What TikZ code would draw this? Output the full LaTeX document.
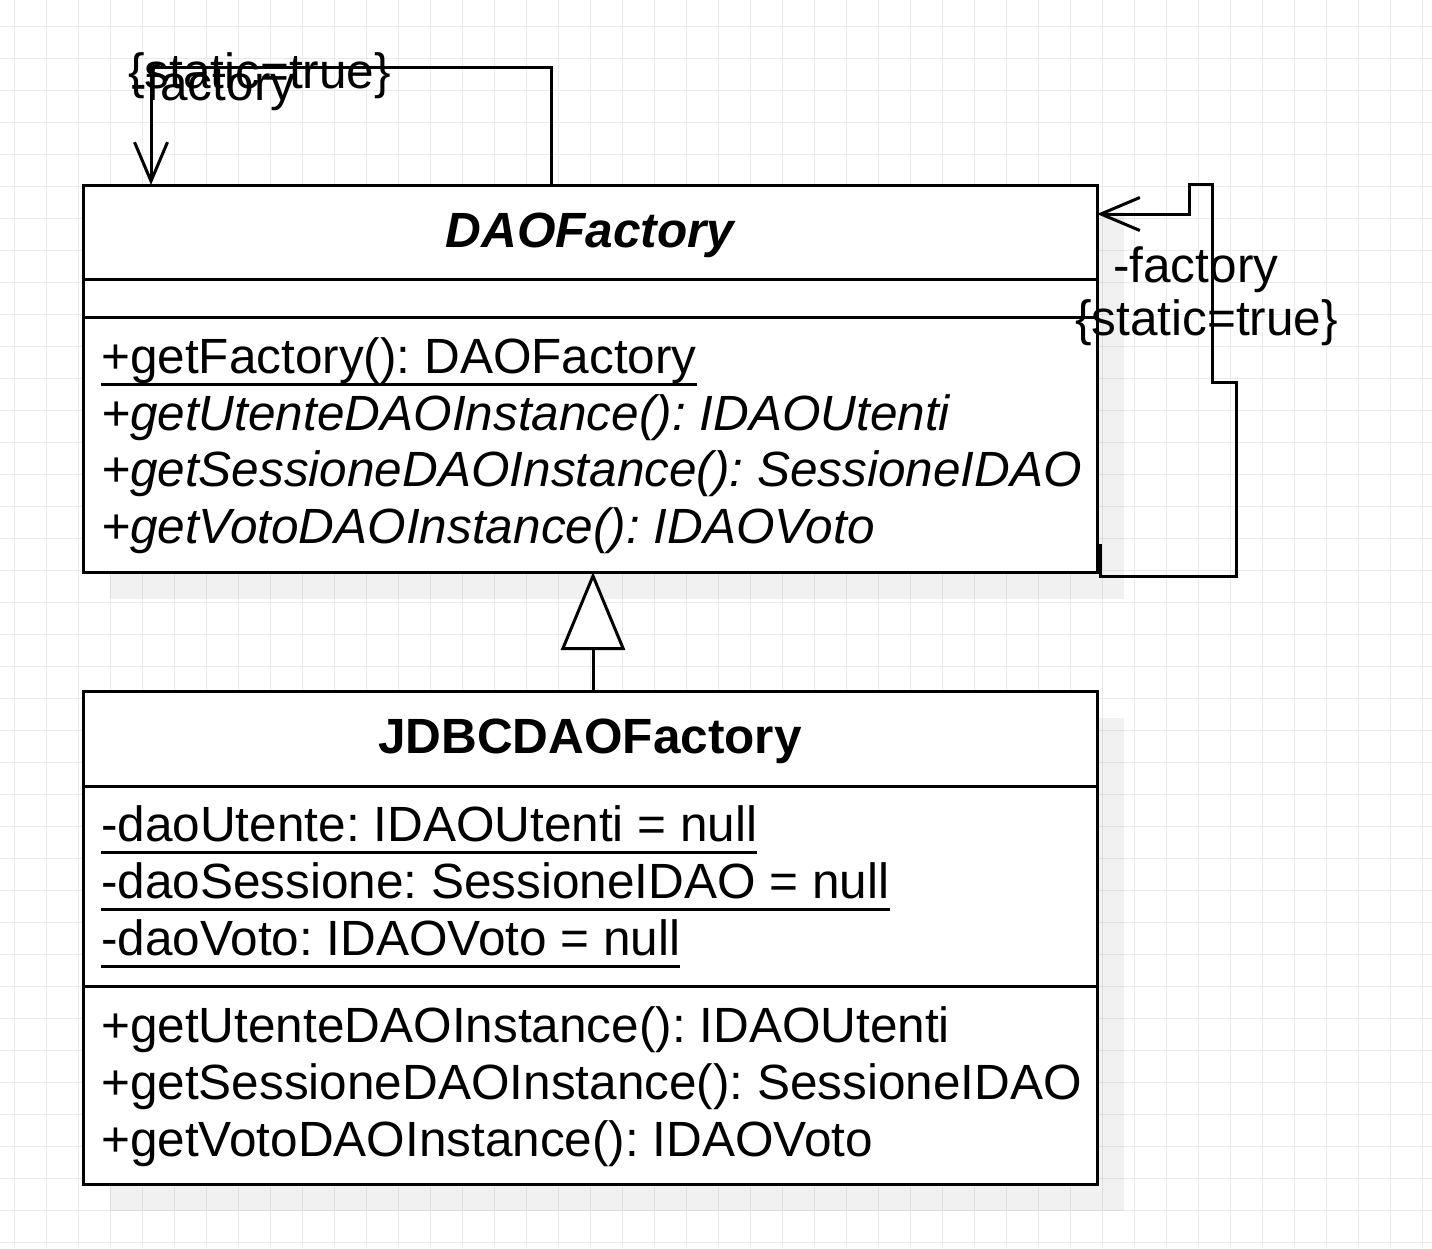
\documentclass[tikz,border=0pt]{standalone}
\usepackage{fontspec}
\setmainfont{Liberation Sans}
\usetikzlibrary{arrows.meta}
\definecolor{gridgray}{HTML}{EBEBEB}
\frenchspacing
\newcommand\umlsize{\fontsize{49.5pt}{57pt}\selectfont}
\newcommand\ulbox[1]{\setbox0\hbox{#1}\rlap{\rule[-13pt]{\wd0}{3pt}}\box0}
\tikzset{classbox/.style={draw,fill=white,line width=3pt,inner sep=0pt,outer sep=0pt},
  shadowbox/.style={fill=black,fill opacity=0.055},
  gridline/.style={gridgray,line width=1pt},
  sepline/.style={line width=3pt},
  member/.style={anchor=base west,inner sep=0pt,font=\umlsize},
  classname/.style={anchor=base,inner sep=0pt,font=\umlsize\bfseries},
  assoc/.style={line width=3pt,-{Straight Barb[length=39pt,width=33pt,line width=3pt]}},
  generalize/.style={line width=3pt,-{Triangle[length=78pt,width=64pt,fill=white,line width=3pt]}}}
\begin{document}
\begin{tikzpicture}[x=1pt,y=-1pt]
\useasboundingbox[fill=white](0,0)rectangle(1432,1248);
\foreach \gx in {14,46,...,1430}\draw[gridline](\gx,0)--(\gx,1248);
\foreach \gy in {26,58,...,1246}\draw[gridline](0,\gy)--(1432,\gy);

\fill[shadowbox](110,212)rectangle(1124,599);
\fill[shadowbox](110,718)rectangle(1124,1211);
\node[classbox,minimum width=1014pt,minimum height=387pt](daof)at(590,378.5){};
\node[classbox,minimum width=1014pt,minimum height=493pt](jdbc)at(590,937.5){};
\draw[sepline](daof.west|-0,279)--(daof.east|-0,279)(daof.west|-0,317)--(daof.east|-0,317);
\draw[sepline](jdbc.west|-0,786)--(jdbc.east|-0,786)(jdbc.west|-0,986)--(jdbc.east|-0,986);

\node[classname,font=\umlsize\bfseries\itshape](daofname)at(590,247){DAOFactory};
\node[member](getfac)at(101,373){\ulbox{+getFactory(): DAOFactory}};
\node[member,font=\umlsize\itshape](getute)at(101,430){+getUtenteDAOInstance(): IDAOUtenti};
\node[member,font=\umlsize\itshape](getses)at(101,486){+getSessioneDAOInstance(): SessioneIDAO};
\node[member,font=\umlsize\itshape](getvot)at(101,543){+getVotoDAOInstance(): IDAOVoto};

\node[classname](jdbcname)at(590,753){JDBCDAOFactory};
\node[member](daoute)at(101,841){\ulbox{-daoUtente: IDAOUtenti = null}};
\node[member](daoses)at(101,898){\ulbox{-daoSessione: SessioneIDAO = null}};
\node[member](daovot)at(101,955){\ulbox{-daoVoto: IDAOVoto = null}};
\node[member](jgetute)at(101,1042){+getUtenteDAOInstance(): IDAOUtenti};
\node[member](jgetses)at(101,1099){+getSessioneDAOInstance(): SessioneIDAO};
\node[member](jgetvot)at(101,1156){+getVotoDAOInstance(): IDAOVoto};

\draw[generalize]([xshift=3pt]jdbc.north)--([xshift=3pt]daof.south);
\coordinate(topbend)at(151,67);
\draw[assoc](daof.north west)++(468,0)|-(topbend)--(topbend|-daof.north);
\draw[assoc](daof.east|-0,545)--++(3,0)--++(0,31)--++(136,0)--++(0,-194)--++(-24,0)--++(0,-198)--++(-23,0)--++(0,30)--(daof.east|-0,214);

\node[member](toprole)at(130,100){-factory};
\node[member](topstatic)at(128,88){\{static=true\}};
\node[member](rightrole)at(1113,282){-factory};
\node[member](rightstatic)at(1075,335){\{static=true\}};
\end{tikzpicture}
\end{document}
